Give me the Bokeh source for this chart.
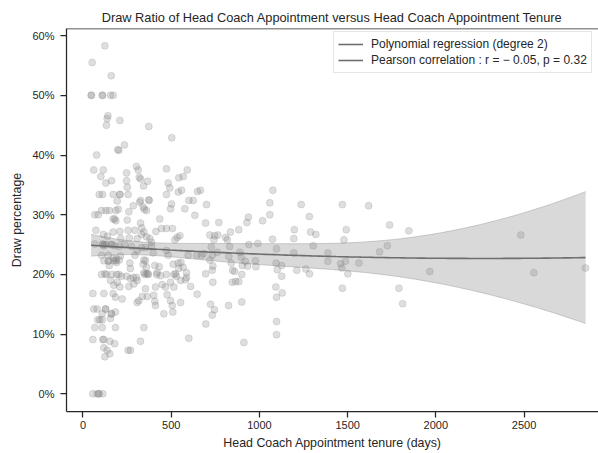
import numpy as np
from bokeh.plotting import figure
from bokeh.models import Range1d, FixedTicker, PrintfTickFormatter, Legend, LegendItem, Span, ColumnDataSource
from bokeh.embed import file_html
from bokeh.resources import INLINE

title_text = "Draw Ratio of Head Coach Appointment versus Head Coach Appointment Tenure"
x_label = "Head Coach Appointment tenure (days)"
y_label = "Draw percentage"
legend_labels = ["Polynomial regression (degree 2)", "Pearson correlation : r = \u2212 0.05, p = 0.32"]
x_ticks = [0, 500, 1000, 1500, 2000, 2500]
y_ticks = [0, 10, 20, 30, 40, 50, 60]

# (tenure in days, draw percentage)
points = [
    # long tenures
    (2849, 21.1), (2556, 20.3), (2482, 26.6), (1966, 20.5), (1847, 27.3), (1812, 15.1), (1791, 17.7),
    (1738, 28.3), (1725, 24.8), (1681, 23.8), (1619, 31.5), (1564, 21.9), (1501, 20.1), (1492, 27.5),
    (1479, 25.8), (1488, 22.2), (1467, 21.1), (1470, 17.7), (1470, 31.7), (1460, 21.8),
    # middle
    (1076, 34.1), (1059, 32.0), (1059, 30.0), (700, 31.7), (695, 28.6), (770, 28.7), (937, 29.6),
    (929, 28.7), (1018, 29.0), (1237, 31.7), (1283, 29.7), (883, 27.5), (836, 27.1), (719, 26.6),
    (746, 26.5), (764, 26.6), (808, 26.2), (742, 25.8), (818, 25.8), (831, 24.7), (727, 24.6),
    (685, 23.5), (733, 23.2), (761, 23.7), (940, 25.0), (991, 25.2), (1074, 25.9), (1097, 24.3),
    (1198, 27.5), (1195, 26.0), (1290, 27.1), (1320, 26.7), (1305, 24.8), (1388, 23.6), (1388, 22.2),
    (827, 23.0), (840, 21.9), (889, 23.7), (897, 22.9), (920, 22.2), (978, 22.3), (980, 21.3),
    (933, 21.4), (903, 21.5), (848, 20.7), (859, 20.5), (900, 20.0), (695, 20.1), (733, 20.7),
    (736, 21.4), (719, 22.4), (1095, 21.9), (1101, 20.8), (1126, 21.5), (1126, 19.7), (1195, 23.6),
    (1212, 20.7), (1263, 20.9), (1284, 20.1), (736, 18.7), (846, 18.7), (865, 18.8), (883, 18.8),
    (1093, 17.9), (1129, 16.9), (1097, 16.2), (723, 15.0), (745, 14.1), (733, 13.2), (696, 11.7),
    (825, 14.8), (900, 15.4), (1097, 12.1), (1097, 9.9), (912, 8.6), (666, 34.1),
    # short tenures, high draw ratio
    (52, 55.5), (124, 58.3), (160, 53.3), (46, 50.0), (48, 50.0), (109, 50.0), (111, 50.0), (156, 50.0),
    (171, 50.0), (141, 46.6), (137, 46.1), (133, 45.0), (209, 45.8), (373, 44.8), (503, 42.9),
    (235, 41.7), (203, 40.8), (197, 40.9), (77, 40.0),
    (61, 37.5), (115, 37.5), (303, 38.1), (313, 37.5), (473, 37.7), (591, 37.5), (568, 36.4),
    (543, 36.2), (101, 36.4), (162, 35.7), (130, 35.3), (247, 37.0), (247, 35.7), (251, 34.6),
    (319, 36.3), (326, 36.0), (366, 35.6), (343, 34.8), (483, 35.3), (492, 34.5), (540, 33.8), (559, 34.1),
    (92, 33.4), (111, 33.4), (171, 33.4), (209, 33.4), (256, 33.4), (194, 32.3), (326, 32.4), (375, 32.4),
    (473, 33.4), (625, 32.4), (649, 33.9), (209, 33.4),
    (67, 30.0), (86, 30.0), (105, 30.7), (130, 30.7), (149, 30.7), (186, 30.7), (200, 30.9),
    (171, 29.3), (186, 29.0), (251, 29.1), (260, 30.5), (285, 31.5), (322, 32.1), (341, 31.3),
    (360, 30.7), (373, 32.5), (435, 29.3), (496, 31.0), (502, 31.8), (577, 31.0), (634, 29.9),
    (600, 32.4), (347, 30.9), (180, 29.3),
    # short tenures, around the mean
    (73, 27.4), (115, 26.7), (139, 26.4), (171, 27.1), (209, 27.2), (256, 27.4), (214, 26.0), (262, 26.1),
    (294, 27.4), (307, 26.0), (326, 28.6), (333, 27.8), (345, 27.1), (360, 26.3), (379, 26.0), (388, 25.4),
    (413, 27.2), (445, 27.7), (473, 27.7), (507, 27.7), (534, 26.2), (521, 25.8), (549, 26.5), (332, 26.7),
    (67, 25.1), (111, 25.1), (133, 25.0), (162, 25.0), (180, 24.8), (205, 24.7), (237, 25.0), (275, 24.7),
    (332, 24.5), (356, 24.5), (388, 24.7), (398, 23.6), (111, 25.0), (124, 25.0), (162, 25.0), (118, 24.8),
    (105, 23.2), (143, 23.2), (171, 22.7), (205, 22.4), (143, 22.2), (190, 22.0), (190, 22.6), (175, 22.3),
    (149, 21.5), (265, 21.9), (294, 23.2), (307, 24.0), (345, 22.4), (360, 21.2), (341, 21.7),
    (407, 21.5), (432, 21.3), (473, 24.0), (483, 23.2), (511, 21.7), (540, 21.9), (555, 22.0),
    (568, 21.2), (596, 23.2), (644, 23.2), (672, 23.2),
    (105, 20.0), (133, 20.0), (162, 20.0), (190, 20.0), (218, 19.7), (247, 19.7), (285, 19.5),
    (303, 19.5), (350, 20.0), (370, 20.0), (417, 20.0), (473, 20.0), (515, 20.0), (530, 19.7), (587, 19.5),
    (124, 20.1), (203, 20.0), (368, 20.1), (524, 20.1), (360, 20.1),
    (118, 22.3), (146, 22.3), (184, 22.3), (213, 23.1), (269, 21.0), (345, 20.3), (354, 22.3),
    (421, 20.3), (439, 19.8), (543, 21.0), (587, 20.3),
    # short tenures, low draw ratio
    (156, 19.0), (194, 18.7), (209, 17.9), (269, 19.3), (307, 19.0), (354, 17.6), (411, 17.9),
    (468, 17.9), (496, 18.7), (553, 19.0), (581, 19.1), (515, 17.9),
    (175, 18.2), (260, 18.0), (288, 18.4), (610, 18.0), (449, 18.3),
    (307, 15.3), (316, 15.6), (336, 16.3), (364, 16.3), (407, 15.5), (411, 14.8), (458, 13.4),
    (496, 15.6), (506, 14.8), (553, 15.3), (509, 13.7), (401, 16.5), (477, 16.6), (647, 16.7),
    (56, 16.8), (118, 16.8), (171, 16.8), (184, 16.2), (222, 15.9),
    (61, 14.2), (80, 14.2), (128, 14.2), (109, 13.4), (160, 13.4), (184, 13.7), (95, 12.4), (84, 12.4), (156, 12.6),
    (128, 14.2), (162, 13.4), (109, 12.4),
    (67, 11.1), (109, 11.1), (184, 11.1), (345, 11.1),
    (56, 9.1), (112, 9.1), (152, 8.8), (179, 8.4), (326, 8.8), (600, 9.3), (118, 9.1),
    (118, 7.7), (137, 7.3), (152, 6.7), (124, 6.2), (256, 7.3), (269, 7.3),
    (56, 0.0), (80, 0.0), (90, 0.0), (112, 0.0), (90, 0.0),
]
tenure_days = [p_[0] for p_ in points]
draw_pct = [p_[1] for p_ in points]

# degree-2 polynomial regression with 95% confidence band
X = np.array(tenure_days, dtype=float)
Y = np.array(draw_pct, dtype=float)
A = np.vander(X, 3)
coef, *_ = np.linalg.lstsq(A, Y, rcond=None)
resid = Y - A @ coef
s2 = resid @ resid / (len(X) - 3)
cov = s2 * np.linalg.inv(A.T @ A)
xs = np.linspace(X.min(), X.max(), 120)
As = np.vander(xs, 3)
fit = As @ coef
se = np.sqrt(np.einsum("ij,jk,ik->i", As, cov, As))
lo = fit - 1.96 * se
hi = fit + 1.96 * se

TXT = "#262626"
FONT = "Liberation Sans"

p = figure(width=598, height=453, output_backend="svg", toolbar_location=None,
           x_range=Range1d(-93.5, 2922), y_range=Range1d(-2.96, 61.2),
           min_border_left=66, min_border_right=0, min_border_top=28, min_border_bottom=42,
           title=title_text)
p.title.text_font = FONT
p.title.text_font_size = "12.8px"
p.title.text_font_style = "normal"
p.title.text_color = TXT
p.title.align = "center"
p.title.standoff = 8
p.outline_line_color = None
p.xgrid.visible = False
p.ygrid.visible = False

p.scatter(tenure_days, draw_pct, size=7, fill_color="#808080", fill_alpha=0.26,
          line_color="#808080", line_alpha=0.26, line_width=0.8)

band = ColumnDataSource(dict(x=xs, lo=lo, hi=hi, fit=fit))
p.varea(x="x", y1="lo", y2="hi", source=band, fill_color="#808080", fill_alpha=0.3)
p.line(x="x", y="hi", source=band, line_color="#808080", line_alpha=0.35, line_width=1)
p.line(x="x", y="lo", source=band, line_color="#808080", line_alpha=0.35, line_width=1)
reg = p.line(x="x", y="fit", source=band, line_color="#6e6e6e", line_width=1.6)

p.add_layout(Span(location=61.2, dimension="width", line_color=TXT, line_width=1.25))

for ax in (p.xaxis[0], p.yaxis[0]):
    ax.axis_line_color = TXT
    ax.axis_line_width = 1.25
    ax.major_tick_line_color = TXT
    ax.major_tick_line_width = 1.25
    ax.major_tick_out = 6
    ax.major_tick_in = 0
    ax.minor_tick_line_color = None
    ax.major_label_text_font = FONT
    ax.major_label_text_font_size = "11px"
    ax.major_label_text_color = TXT
    ax.axis_label_text_font = FONT
    ax.axis_label_text_font_size = "12.4px"
    ax.axis_label_text_font_style = "normal"
    ax.axis_label_text_color = TXT

p.xaxis.ticker = FixedTicker(ticks=x_ticks)
p.yaxis.ticker = FixedTicker(ticks=y_ticks)
p.yaxis.formatter = PrintfTickFormatter(format="%d%%")
p.xaxis.axis_label = x_label
p.yaxis.axis_label = y_label
p.xaxis.major_label_standoff = 3
p.xaxis.axis_label_standoff = 4
p.yaxis.major_label_standoff = 6
p.yaxis.axis_label_standoff = 5

legend = Legend(items=[LegendItem(label=legend_labels[0], renderers=[reg]),
                       LegendItem(label=legend_labels[1], renderers=[reg])],
                location=(267, 338), padding=4, spacing=0, margin=0,
                label_height=16, glyph_height=16, glyph_width=25, label_standoff=8,
                label_text_font=FONT, label_text_font_size="12px", label_text_color=TXT,
                border_line_color="#cccccc", border_line_width=1,
                background_fill_color="white", background_fill_alpha=0.8)
p.add_layout(legend)

open("out.html", "w").write(file_html(p, INLINE))
